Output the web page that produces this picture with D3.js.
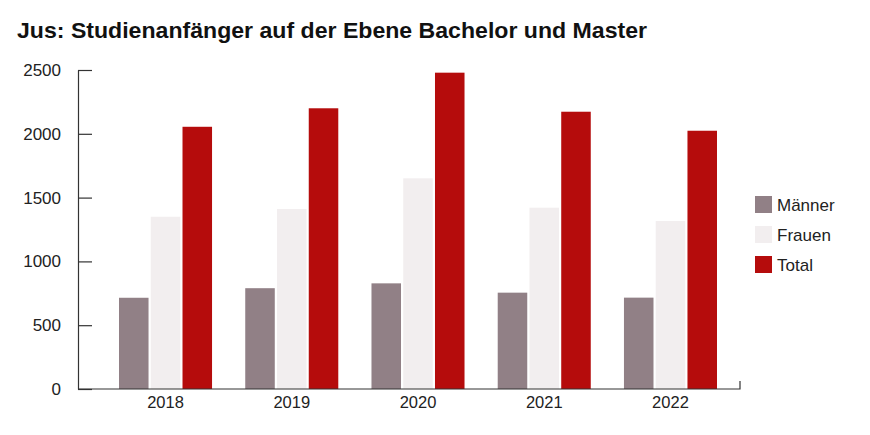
<!DOCTYPE html>
<html>
<head>
<meta charset="utf-8">
<script src="https://cdn.jsdelivr.net/npm/d3@7"></script>
<style>
  body { margin: 0; background: #fff; }
  text { font-family: "Liberation Sans", Arial, sans-serif; fill: #222; }
</style>
</head>
<body>
<div id="wrapper"></div>
<script>
const years = ["2018", "2019", "2020", "2021", "2022"]
const series = ["Männer", "Frauen", "Total"]
const maenner = [715, 790, 828, 755, 716]
const frauen = [1350, 1411, 1651, 1421, 1317]
const total = [2055, 2200, 2479, 2173, 2024]
const yTicks = [0, 500, 1000, 1500, 2000, 2500]
const colors = ["#918086", "#f2eeef", "#b50c0c"]

const values = [maenner, frauen, total]
const rows = years.map((y, i) => ({year: y, vals: series.map((s, j) => ({key: s, value: values[j][i]}))}))

const width = 870, height = 435

const svg = d3.select("#wrapper").append("svg")
  .attr("width", width)
  .attr("height", height)

// title
svg.append("text")
  .attr("x", 17)
  .attr("y", 38)
  .attr("textLength", 630)
  .attr("lengthAdjust", "spacingAndGlyphs")
  .style("font-family", "'Liberation Sans', Arial, sans-serif")
  .style("font-weight", "bold")
  .style("font-size", "21.5px")
  .style("fill", "#111")
  .text("Jus: Studienanfänger auf der Ebene Bachelor und Master")

// scales
var yScale = d3.scaleLinear()
  .domain([0, 2500])
  .range([389, 70])
var xScale = d3.scaleBand()
  .domain(years)
  .range([102.4, 733.6])
  .paddingInner(0.263)
  .paddingOuter(0.1315)
var x1 = d3.scaleBand()
  .domain(series)
  .range([0, xScale.bandwidth()])
  .paddingInner(0.07)
var color = d3.scaleOrdinal().domain(series).range(colors)

// bars
var groups = svg.append("g").selectAll("g")
  .data(rows)
  .enter().append("g")
    .attr("transform", d => `translate(${xScale(d.year)},0)`)
groups.selectAll("rect")
  .data(d => d.vals)
  .enter().append("rect")
    .attr("x", d => x1(d.key))
    .attr("width", x1.bandwidth())
    .attr("y", d => yScale(d.value))
    .attr("height", d => yScale(0) - yScale(d.value))
    .attr("fill", d => color(d.key))

// y axis
var yAxis = svg.append("g")
  .attr("transform", "translate(78,0)")
  .call(d3.axisLeft(yScale).tickValues(yTicks).tickFormat(d3.format("d")).tickSize(-14).tickSizeOuter(0).tickPadding(17))
yAxis.select(".domain").attr("stroke", "#333").attr("stroke-width", 1.2)
yAxis.selectAll(".tick line").attr("stroke", "#333").attr("stroke-width", 1.2)
yAxis.selectAll(".tick text")
  .style("font-size", "17px")
  .style("font-family", "'Liberation Sans', Arial, sans-serif")
  .attr("fill", "#222")

// x axis
var xAxis = svg.append("g")
  .attr("transform", "translate(0,389)")
  .call(d3.axisBottom(xScale).tickSize(0).tickPadding(7))
xAxis.select(".domain").remove()
xAxis.selectAll(".tick text")
  .style("font-size", "16.5px")
  .style("font-family", "'Liberation Sans', Arial, sans-serif")
  .attr("fill", "#222")
svg.append("path")
  .attr("d", "M78,389H740V381")
  .attr("fill", "none")
  .attr("stroke", "#333")
  .attr("stroke-width", 1.2)

// legend
var legend = svg.append("g").selectAll("g")
  .data(series)
  .enter().append("g")
    .attr("transform", (d, i) => `translate(755,${196 + i * 30})`)
legend.append("rect")
  .attr("width", 17)
  .attr("height", 17)
  .attr("fill", d => color(d))
legend.append("text")
  .attr("x", 22)
  .attr("y", 15)
  .style("font-size", "17px")
  .text(d => d)
</script>
</body>
</html>
